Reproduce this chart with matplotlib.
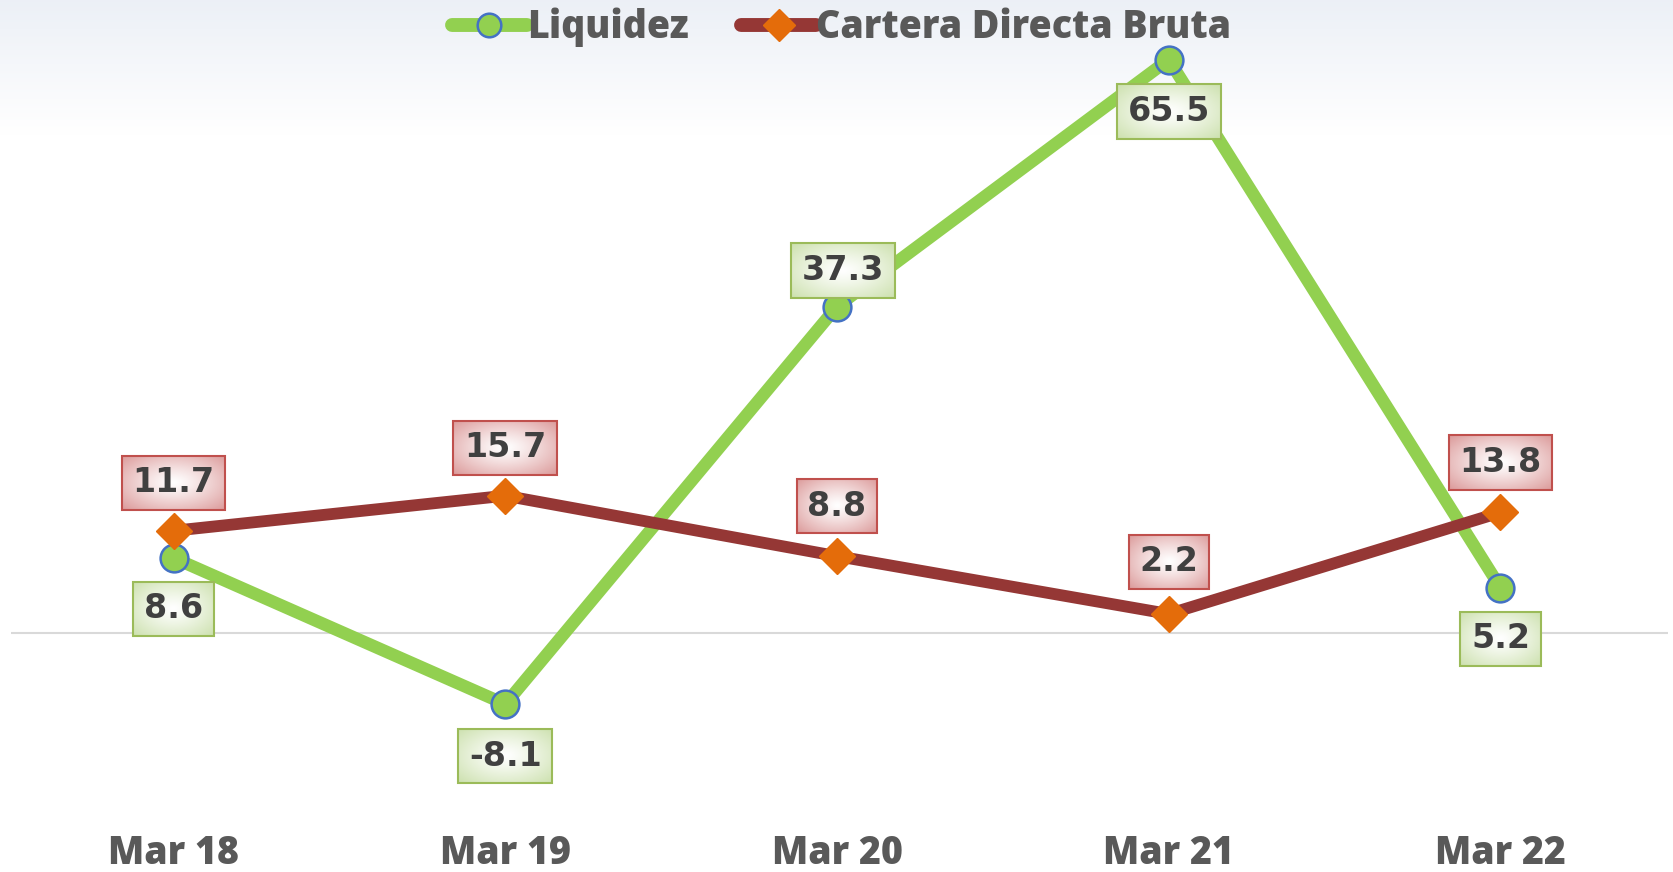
import numpy as np
import matplotlib
matplotlib.use("Agg")
import matplotlib.pyplot as plt
from matplotlib.lines import Line2D

categories = ["Mar 18", "Mar 19", "Mar 20", "Mar 21", "Mar 22"]
liquidez = [8.6, -8.1, 37.3, 65.5, 5.2]
cartera = [11.7, 15.7, 8.8, 2.2, 13.8]
series_names = ["Liquidez", "Cartera Directa Bruta"]

GREEN = "#92D050"
DARKRED = "#953735"
ORANGE = "#E46C0A"
BLUE = "#4472C4"
TXT = "#404040"
GRAY = "#595959"

fig = plt.figure(figsize=(16.73, 8.72), dpi=100)

# background gradient (light blue-gray at top fading to white)
bg = fig.add_axes([0, 0, 1, 1], zorder=-10)
grad = np.ones((872, 1, 3))
t = np.clip(1 - np.arange(872) / 135.0, 0, 1)
top = np.array([0.925, 0.94, 0.965])
for i in range(3):
    grad[:, 0, i] = 1 - (1 - top[i]) * t
bg.imshow(grad, aspect="auto", extent=[0, 1, 0, 1], origin="upper")
bg.axis("off")

ax = fig.add_axes([11 / 1673, 0.09, 1657 / 1673, 0.91])
ax.patch.set_alpha(0)
x = np.arange(len(categories))
ax.set_xlim(-0.49, 4.505)
ax.set_ylim(-18.3, 72.3)

ax.axhline(0, color="#D9D9D9", lw=1.5, zorder=1)

ax.plot(x, liquidez, color=GREEN, lw=9, solid_capstyle="butt", zorder=3,
        marker="o", markersize=20, markerfacecolor=GREEN, markeredgecolor=BLUE,
        markeredgewidth=1.8)
ax.plot(x, cartera, color=DARKRED, lw=8.5, solid_capstyle="butt", zorder=4,
        marker="D", markersize=18, markerfacecolor=ORANGE, markeredgecolor=ORANGE)

for s in ax.spines.values():
    s.set_visible(False)
ax.set_yticks([])
ax.set_xticks(x)
ax.set_xticklabels(categories, fontsize=27, fontweight="heavy", color=GRAY,
                   family=["Open Sans", "DejaVu Sans"])
ax.tick_params(axis="x", length=0, pad=29)

texts = []
liq_off = [(0, -51), (0, -52), (6, 36), (0, -52), (0, -51)]
car_off = [(0, 48), (0, 48), (0, 50), (0, 52), (0, 50)]
for i, v in enumerate(liquidez):
    dx, dy = liq_off[i]
    tx = ax.annotate(f"{v:.1f}", (x[i], v), xytext=(dx * 0.72, dy * 0.72),
                     textcoords="offset points", ha="center", va="center",
                     fontsize=24, fontweight="bold", color=TXT, zorder=8,
                     bbox=dict(boxstyle="square,pad=0.32", fc="none",
                               ec="#9BBB59", lw=1.5))
    texts.append((tx, "g"))
for i, v in enumerate(cartera):
    dx, dy = car_off[i]
    tx = ax.annotate(f"{v:.1f}", (x[i], v), xytext=(dx * 0.72, dy * 0.72),
                     textcoords="offset points", ha="center", va="center",
                     fontsize=24, fontweight="bold", color=TXT, zorder=8,
                     bbox=dict(boxstyle="square,pad=0.32", fc="none",
                               ec="#C0504D", lw=1.5))
    texts.append((tx, "r"))

# legend
handles = [
    Line2D([], [], color=GREEN, lw=10, solid_capstyle="round", marker="o",
           markersize=17, markerfacecolor=GREEN, markeredgecolor=BLUE,
           markeredgewidth=1.8),
    Line2D([], [], color=DARKRED, lw=10, solid_capstyle="round", marker="D",
           markersize=16, markerfacecolor=ORANGE, markeredgecolor=ORANGE),
]
leg = fig.legend(handles, series_names, loc="center", bbox_to_anchor=(0.503, 0.969),
                 ncol=2, frameon=False, handlelength=2.0, handletextpad=0.0,
                 columnspacing=1.4, prop={"family": ["Open Sans", "DejaVu Sans"],
                                           "weight": "heavy", "size": 27})
for tt in leg.get_texts():
    tt.set_color(GRAY)

# gradient fills for label boxes
fig.canvas.draw()
r = fig.canvas.get_renderer()
inv = ax.transData.inverted()
yy, xx = np.mgrid[-1:1:60j, -1:1:110j]
rad = np.clip(np.sqrt(xx ** 2 + yy ** 2) / 1.41, 0, 1)
for tx, kind in texts:
    bb = tx.get_bbox_patch().get_window_extent(r)
    (x0, y0), (x1, y1) = inv.transform([[bb.x0, bb.y0], [bb.x1, bb.y1]])
    if kind == "g":
        edge = np.array([0.80, 0.88, 0.68])
    else:
        edge = np.array([0.86, 0.60, 0.60])
    img = np.ones((60, 110, 3))
    for c in range(3):
        img[:, :, c] = 1 - (1 - edge[c]) * rad ** 1.2
    ax.imshow(img, extent=[x0, x1, y0, y1], aspect="auto", zorder=7,
              interpolation="bilinear")
ax.set_xlim(-0.49, 4.505)
ax.set_ylim(-18.3, 72.3)

fig.savefig("out.png", dpi=100)
